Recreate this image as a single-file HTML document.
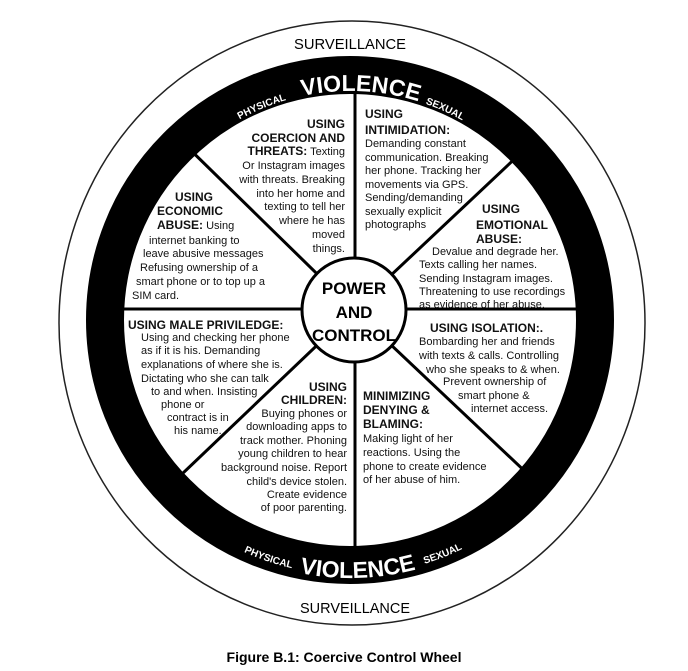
<!DOCTYPE html>
<html><head><meta charset="utf-8"><style>
html,body{margin:0;padding:0;background:#fff;}
svg{display:block;font-family:"Liberation Sans",sans-serif;}
.b{font-size:11px;fill:#111;}
.h{font-size:12px;font-weight:bold;fill:#111;}
</style></head><body>
<svg width="688" height="671" viewBox="0 0 688 671">
<defs>
<clipPath id="c"><circle cx="350" cy="320" r="227"/></clipPath>
<path id="top" d="M121,320 A229,229 0 0 1 579,320"/>
<path id="tops" d="M121,320 A229,229 0 0 1 579,320"/>
<path id="bot" d="M92,320 A258,258 0 0 0 608,320"/>
<path id="bots" d="M95,320 A255,255 0 0 0 605,320"/>
</defs>
<ellipse cx="352" cy="323" rx="293" ry="302" fill="none" stroke="#222" stroke-width="1.5"/>
<circle cx="350" cy="320" r="245" fill="none" stroke="#000" stroke-width="38"/>
<g clip-path="url(#c)" stroke="#000" stroke-width="3">
<line x1="355" y1="80" x2="355" y2="560"/>
<line x1="100" y1="309" x2="600" y2="309"/>
<line x1="170" y1="130" x2="354" y2="310"/>
<line x1="540" y1="135" x2="354" y2="310"/>
<line x1="160" y1="495" x2="354" y2="310"/>
<line x1="550" y1="495" x2="354" y2="310"/>
</g>
<circle cx="354" cy="310" r="52" fill="#fff" stroke="#000" stroke-width="3"/>
<text x="354" y="294" text-anchor="middle" style="font-size:17px;font-weight:bold">POWER</text>
<text x="354" y="318" text-anchor="middle" style="font-size:17px;font-weight:bold">AND</text>
<text x="354" y="341" text-anchor="middle" style="font-size:17px;font-weight:bold">CONTROL</text>

<text fill="#fff" style="font-size:23px;font-weight:bold"><textPath href="#top" startOffset="51.5%" text-anchor="middle">VIOLENCE</textPath></text>
<text fill="#fff" style="font-size:10px;font-weight:bold"><textPath href="#tops" startOffset="37.5%" text-anchor="middle">PHYSICAL</textPath></text>
<text fill="#fff" style="font-size:10px;font-weight:bold"><textPath href="#tops" startOffset="63.5%" text-anchor="middle">SEXUAL</textPath></text>
<text fill="#fff" style="font-size:23px;font-weight:bold"><textPath href="#bot" startOffset="51%" text-anchor="middle">VIOLENCE</textPath></text>
<text fill="#fff" style="font-size:10px;font-weight:bold"><textPath href="#bots" startOffset="39.5%" text-anchor="middle">PHYSICAL</textPath></text>
<text fill="#fff" style="font-size:10px;font-weight:bold"><textPath href="#bots" startOffset="62%" text-anchor="middle">SEXUAL</textPath></text>

<text x="294" y="49" textLength="112" lengthAdjust="spacingAndGlyphs" style="font-size:15px">SURVEILLANCE</text>
<text x="300" y="613" textLength="110" lengthAdjust="spacingAndGlyphs" style="font-size:15px">SURVEILLANCE</text>

<g text-anchor="end">
<text class="h" x="345" y="128">USING</text>
<text class="h" x="345" y="142">COERCION AND</text>
<text class="b" x="345" y="155"><tspan class="h">THREATS:</tspan> Texting</text>
<text class="b" x="345" y="169">Or Instagram images</text>
<text class="b" x="345" y="183">with threats.  Breaking</text>
<text class="b" x="345" y="197">into her home and</text>
<text class="b" x="345" y="210">texting to tell her</text>
<text class="b" x="345" y="224">where he has</text>
<text class="b" x="345" y="238">moved</text>
<text class="b" x="345" y="252">things.</text>
</g>
<g>
<text class="h" x="365" y="118">USING</text>
<text class="h" x="365" y="134">INTIMIDATION:</text>
<text class="b" x="365" y="147">Demanding constant</text>
<text class="b" x="365" y="161">communication. Breaking</text>
<text class="b" x="365" y="174">her phone.  Tracking her</text>
<text class="b" x="365" y="188">movements via GPS.</text>
<text class="b" x="365" y="201">Sending/demanding</text>
<text class="b" x="365" y="215">sexually explicit</text>
<text class="b" x="365" y="228">photographs</text>

<text class="h" x="482" y="213">USING</text>
<text class="h" x="476" y="229">EMOTIONAL</text>
<text class="h" x="476" y="243">ABUSE:</text>
<text class="b" x="432" y="255">Devalue and degrade her.</text>
<text class="b" x="419" y="268">Texts calling her names.</text>
<text class="b" x="419" y="282">Sending Instagram images.</text>
<text class="b" x="419" y="295">Threatening to use recordings</text>
<text class="b" x="419" y="308">as evidence of her abuse.</text>

<text class="h" x="175" y="201">USING</text>
<text class="h" x="157" y="215">ECONOMIC</text>
<text class="b" x="157" y="229"><tspan class="h">ABUSE:</tspan>  Using</text>
<text class="b" x="149" y="244">internet banking to</text>
<text class="b" x="143" y="257">leave abusive messages</text>
<text class="b" x="140" y="271">Refusing ownership of a</text>
<text class="b" x="136" y="285">smart phone or to top up a</text>
<text class="b" x="132" y="299">SIM card.</text>

<text class="h" x="128" y="329">USING MALE PRIVILEDGE:</text>
<text class="b" x="141" y="341">Using and checking her phone</text>
<text class="b" x="141" y="354">as if it is his.  Demanding</text>
<text class="b" x="141" y="368">explanations of where she is.</text>
<text class="b" x="141" y="382">Dictating who she can talk</text>
<text class="b" x="151" y="395">to and when. Insisting</text>
<text class="b" x="161" y="408">phone or</text>
<text class="b" x="167" y="421">contract is in</text>
<text class="b" x="174" y="434">his name.</text>

<text class="h" x="363" y="400">MINIMIZING</text>
<text class="h" x="363" y="414">DENYING &amp;</text>
<text class="h" x="363" y="428">BLAMING:</text>
<text class="b" x="363" y="442">Making light of her</text>
<text class="b" x="363" y="456">reactions. Using the</text>
<text class="b" x="363" y="470">phone to create evidence</text>
<text class="b" x="363" y="483">of her abuse of him.</text>

<text class="h" x="430" y="332">USING ISOLATION:.</text>
<text class="b" x="419" y="345">Bombarding her and friends</text>
<text class="b" x="419" y="359">with texts &amp; calls.  Controlling</text>
<text class="b" x="426" y="373">who she speaks to &amp; when.</text>
<text class="b" x="443" y="385">Prevent ownership of</text>
<text class="b" x="458" y="399">smart phone &amp;</text>
<text class="b" x="471" y="412">internet access.</text>
</g>
<g text-anchor="end">
<text class="h" x="347" y="391">USING</text>
<text class="h" x="347" y="404">CHILDREN:</text>
<text class="b" x="347" y="417">Buying phones or</text>
<text class="b" x="347" y="430">downloading apps to</text>
<text class="b" x="347" y="444">track mother.  Phoning</text>
<text class="b" x="347" y="457">young children to hear</text>
<text class="b" x="347" y="471">background noise. Report</text>
<text class="b" x="347" y="485">child's device stolen.</text>
<text class="b" x="347" y="498">Create evidence</text>
<text class="b" x="347" y="511">of poor parenting.</text>
</g>
<text x="344" y="662" text-anchor="middle" style="font-size:14px;font-weight:bold">Figure B.1: Coercive Control Wheel</text>
</svg>
</body></html>
